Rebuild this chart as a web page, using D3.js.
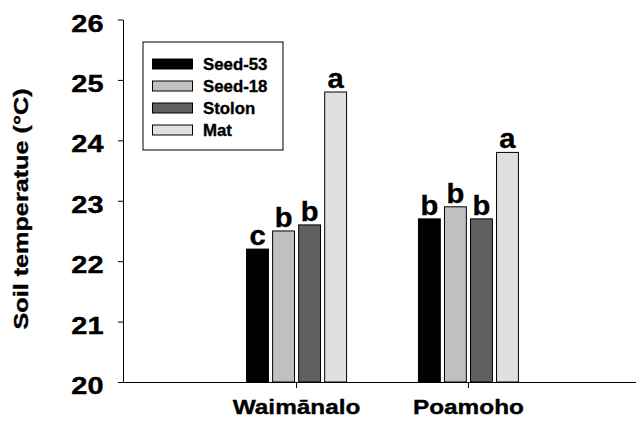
<!DOCTYPE html>
<html>
<head>
<meta charset="utf-8">
<script src="https://cdn.jsdelivr.net/npm/d3@7"></script>
<style>
  html, body { margin: 0; padding: 0; background: #fff; }
  svg { display: block; font-family: Arial, "Liberation Sans", Helvetica, sans-serif; font-weight: bold; }
  svg text { stroke: #000; stroke-width: 0.35px; }
</style>
</head>
<body>
<svg id="chart" width="636" height="421"></svg>
<script>
// Soil temperature by planting method at two sites
const sites = ["Waimānalo", "Poamoho"];
const methods = ["Seed-53", "Seed-18", "Stolon", "Mat"];
const fills = ["#000000", "#c0c0c0", "#606060", "#e0e0e0"];
const seed53 = [22.2, 22.7];
const seed18 = [22.5, 22.9];
const stolon = [22.6, 22.7];
const mat = [24.8, 23.8];
const letters = [["c", "b", "b", "a"], ["b", "b", "b", "a"]];
const yTicks = [20, 21, 22, 23, 24, 25, 26];

const series = [seed53, seed18, stolon, mat];
const rows = sites.map((s, i) => ({
  site: s,
  bars: methods.map((m, j) => ({ method: m, value: series[j][i], fill: fills[j], letter: letters[i][j] }))
}));

const svg = d3.select("#chart");
const plotL = 123, plotR = 642, plotT = 19.5, plotB = 382;

// widen glyphs horizontally by factor k
function stretch(sel, k) {
  sel.each(function () {
    const len = this.getComputedTextLength();
    d3.select(this).attr("textLength", len * k).attr("lengthAdjust", "spacingAndGlyphs");
  });
}

const y = d3.scaleLinear().domain([20, 26]).range([plotB, plotT]);
const x0 = d3.scaleBand().domain(sites).range([plotL, plotR]).paddingInner(0).paddingOuter(0.51);
const groupW = 100;
const x1 = d3.scaleBand().domain(methods)
  .range([x0.bandwidth() / 2 - groupW / 2, x0.bandwidth() / 2 + groupW / 2])
  .paddingInner(0.16);

// bars
const g = svg.append("g");
const groups = g.selectAll("g.site").data(rows).join("g")
  .attr("class", "site")
  .attr("transform", d => `translate(${x0(d.site)},0)`);

groups.selectAll("rect").data(d => d.bars).join("rect")
  .attr("x", d => x1(d.method))
  .attr("y", d => y(d.value))
  .attr("width", x1.bandwidth())
  .attr("height", d => y(20) - y(d.value))
  .attr("fill", d => d.fill)
  .attr("stroke", "#000")
  .attr("stroke-width", 1);

groups.selectAll("text.sig").data(d => d.bars).join("text")
  .attr("class", "sig")
  .attr("x", d => x1(d.method) + x1.bandwidth() / 2)
  .attr("y", d => y(d.value) - 4)
  .attr("text-anchor", "middle")
  .attr("font-size", 27)
  .attr("fill", "#000")
  .text(d => d.letter)
  .call(stretch, 1.08);

// y axis
const yAxis = svg.append("g")
  .attr("transform", `translate(${plotL},0)`)
  .call(d3.axisLeft(y).tickValues(yTicks).tickFormat(d3.format("d")).tickSize(5).tickSizeOuter(0).tickPadding(14.5));
yAxis.select(".domain").attr("stroke", "#000");
yAxis.selectAll(".tick line").attr("stroke", "#000");
yAxis.selectAll(".tick text")
  .attr("font-size", 23).attr("font-family", null).attr("fill", "#000")
  .attr("dy", "0.5em")
  .call(stretch, 1.26);

// x axis
const xAxis = svg.append("g")
  .attr("transform", `translate(0,${plotB})`)
  .call(d3.axisBottom(x0).tickSize(6).tickSizeOuter(0).tickPadding(11));
xAxis.select(".domain").attr("stroke", "#000");
xAxis.selectAll(".tick line").attr("stroke", "#000");
xAxis.selectAll(".tick text")
  .attr("font-size", 21).attr("font-family", null).attr("fill", "#000")
  .call(stretch, 1.16);

// y axis title
svg.append("text")
  .attr("transform", `translate(28,209) rotate(-90)`)
  .attr("text-anchor", "middle")
  .attr("font-size", 20)
  .attr("fill", "#000")
  .text("Soil temperatue (°C)")
  .call(stretch, 1.26);

// legend
const legend = svg.append("g").attr("transform", "translate(143,42)");
legend.append("rect")
  .attr("width", 140).attr("height", 108)
  .attr("fill", "#fff").attr("stroke", "#000").attr("stroke-width", 1);
const items = legend.selectAll("g.item").data(methods).join("g")
  .attr("class", "item")
  .attr("transform", (d, i) => `translate(9,${22 + i * 22})`);
items.append("rect")
  .attr("x", 0.5).attr("y", -5).attr("width", 40).attr("height", 10)
  .attr("fill", (d, i) => fills[i]).attr("stroke", "#000").attr("stroke-width", 1);
items.append("text")
  .attr("x", 51).attr("y", 6)
  .attr("font-size", 16).attr("fill", "#000")
  .text(d => d)
  .call(stretch, 1.05);
</script>
</body>
</html>
